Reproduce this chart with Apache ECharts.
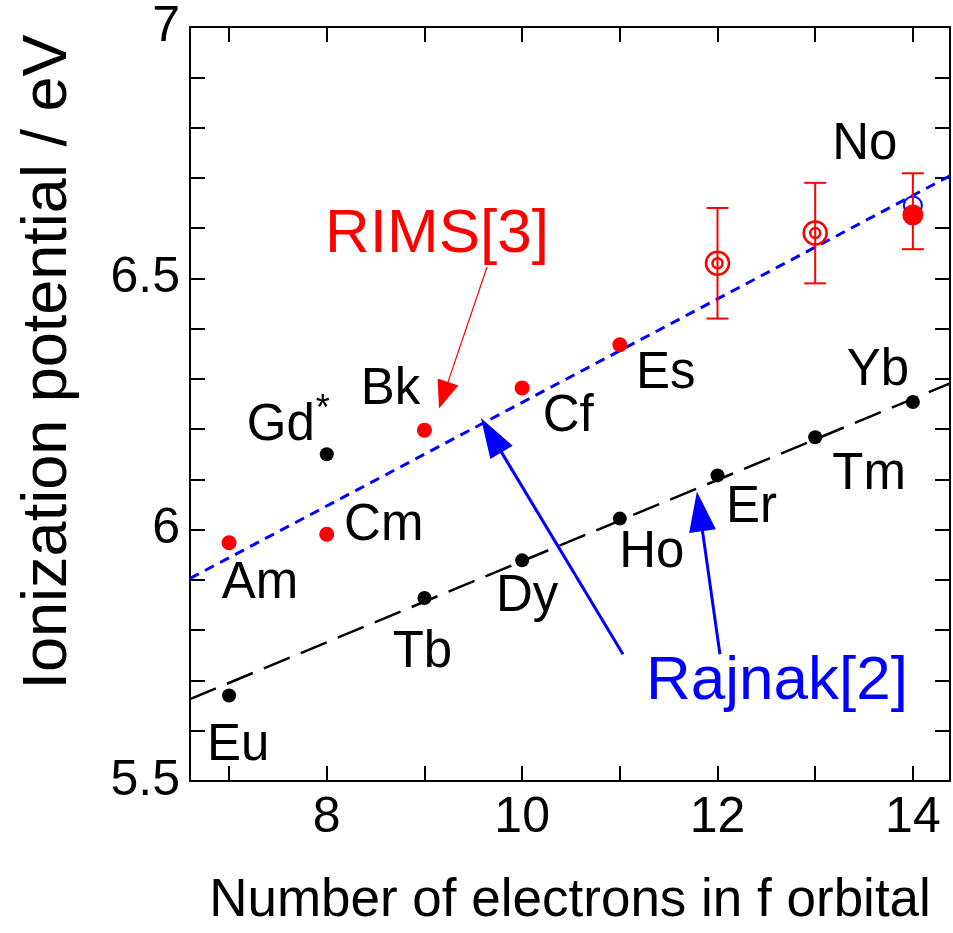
<!DOCTYPE html>
<html><head><meta charset="utf-8">
<script src="https://cdn.jsdelivr.net/npm/echarts@6/dist/echarts.min.js"></script>
<style>html,body{margin:0;padding:0;background:#fff}#c{width:953px;height:933px}</style>
</head><body><div id="c"></div>
<script>
const FONT = '"Liberation Sans", Arial, Helvetica, sans-serif';

// ---------------- data ----------------
const fElectrons   = [7, 8, 9, 10, 11, 12, 13, 14];
const lanthanides  = ['Eu', 'Gd', 'Tb', 'Dy', 'Ho', 'Er', 'Tm', 'Yb'];
const lanthanideIP = [5.670, 6.150, 5.864, 5.939, 6.022, 6.108, 6.184, 6.254];
const actinides    = ['Am', 'Cm', 'Bk', 'Cf', 'Es', 'Fm', 'Md', 'No'];
const actinideIP   = [5.974, 5.991, 6.198, 6.282, 6.368, 6.53, 6.59, 6.626];
const actinideErrLow  = [null, null, null, null, null, 6.42, 6.49, 6.558];
const actinideErrHigh = [null, null, null, null, null, 6.64, 6.69, 6.709];
const noTheoryIP = 6.645;

const fitX          = [6.6, 14.38];
const lanthanideFit = [5.663, 6.291];
const actinideFit   = [5.903, 6.704];

const xTicks      = [7, 8, 9, 10, 11, 12, 13, 14];
const xTickLabels = [8, 10, 12, 14];
const yTicks      = [5.5, 5.6, 5.7, 5.8, 5.9, 6.0, 6.1, 6.2, 6.3, 6.4, 6.5, 6.6, 6.7, 6.8, 6.9, 7.0];
const yTickLabels = [5.5, 6, 6.5, 7];

// annotations (data coordinates)
const noteTexts = ['RIMS[3]', 'Rajnak[2]', '*'];
const noteAt    = [[9.128, 6.587], [12.608, 5.698], [8, 6.150]];
const arrowFrom = [[9.64, 6.522], [11.032, 5.752], [12.025, 5.752]];
const arrowTo   = [[9.149, 6.241], [9.578, 6.222], [11.789, 6.076]];

// ---------------- styles ----------------
const RED = '#ff0000', BLUE = '#0000ff', BLACK = '#000000';
const noteStyle = [
  {color: RED, size: 62, off: [0, 0]},
  {color: BLUE, size: 62, off: [0, 0]},
  {color: BLACK, size: 36, off: [-4, -44]}
];
const arrowStyle = [
  {color: RED, width: 1.2, len: 28, head: 22},
  {color: BLUE, width: 3, len: 40, head: 26},
  {color: BLUE, width: 3, len: 40, head: 27}
];
const labelOffsets = {
  Eu: [9, 50], Gd: [-46, -28], Tb: [-2, 55], Dy: [5, 37], Ho: [32, 34], Er: [34, 33], Tm: [54, 38], Yb: [-35, -31],
  Am: [31, 41], Cm: [57, -8], Bk: [-34, -40], Cf: [46, 29], Es: [46, 29], No: [-48, -70]
};
const actMarker = ['dot', 'dot', 'dot', 'dot', 'dot', 'ring', 'ring', 'big'];
const LABEL_SIZE = 51;

function lbl(name) {
  const o = labelOffsets[name];
  if (!o) return {show: false};
  return {show: true, formatter: name, position: 'inside', offset: o, color: BLACK, opacity: 1,
    fontSize: LABEL_SIZE, fontFamily: FONT, align: 'center', verticalAlign: 'middle'};
}

const lanthData = fElectrons.map((x, i) => ({value: [x, lanthanideIP[i]], label: lbl(lanthanides[i])}));
const actDots = [], actRings = [];
fElectrons.forEach((x, i) => {
  const m = actMarker[i];
  if (m === 'ring') actRings.push([x, actinideIP[i]]);
  else actDots.push({value: [x, actinideIP[i]], symbolSize: m === 'big' ? 21 : 15, label: lbl(actinides[i])});
});
const errData = [];
fElectrons.forEach((x, i) => { if (actinideErrLow[i] != null) errData.push([x, actinideErrLow[i], actinideErrHigh[i]]); });
const arrowData = arrowFrom.map((f, i) => [f[0], f[1], arrowTo[i][0], arrowTo[i][1]]);

const axisLineStyle = {color: BLACK, width: 2};
const baseX = {type: 'value', min: 6.6, max: 14.38, splitLine: {show: false},
  axisLine: {show: true, onZero: false, lineStyle: axisLineStyle},
  axisTick: {show: true, inside: true, length: 15, customValues: xTicks, lineStyle: axisLineStyle}};
const baseY = {type: 'value', min: 5.5, max: 7, splitLine: {show: false},
  axisLine: {show: true, onZero: false, lineStyle: axisLineStyle},
  axisTick: {show: true, inside: true, length: 15, customValues: yTicks, lineStyle: axisLineStyle}};

const chart = echarts.init(document.getElementById('c'), null, {renderer: 'canvas'});
chart.setOption({
  animation: false,
  backgroundColor: '#ffffff',
  grid: {left: 190, right: 3, top: 27, bottom: 143, containLabel: false},
  xAxis: [
    Object.assign({}, baseX, {position: 'bottom',
      axisLabel: {show: true, customValues: xTickLabels, fontSize: 50, color: BLACK, fontFamily: FONT, margin: 12},
      name: 'Number of electrons in f orbital', nameLocation: 'middle', nameGap: 94,
      nameTextStyle: {fontSize: 53, color: BLACK, fontFamily: FONT}}),
    Object.assign({}, baseX, {position: 'top', axisLabel: {show: false}})
  ],
  yAxis: [
    Object.assign({}, baseY, {position: 'left',
      axisLabel: {show: true, customValues: yTickLabels, fontSize: 50, color: BLACK, fontFamily: FONT, margin: 10,
        formatter: v => String(Math.round(v * 10) / 10)}}),
    Object.assign({}, baseY, {position: 'right', axisLabel: {show: false}})
  ],
  graphic: [{
    type: 'text', x: 49, y: 362, rotation: Math.PI / 2,
    style: {text: 'Ionization potential / eV', fill: BLACK, fontSize: 63, fontFamily: FONT,
      align: 'center', verticalAlign: 'middle'}
  }],
  series: [
    {type: 'line', name: 'lanthanide fit', data: fitX.map((x, i) => [x, lanthanideFit[i]]),
      symbol: 'none', z: 2, lineStyle: {color: BLACK, width: 2.5, type: [28, 12]}},
    {type: 'line', name: 'actinide fit', data: fitX.map((x, i) => [x, actinideFit[i]]),
      symbol: 'none', z: 2, lineStyle: {color: BLUE, width: 3, type: [10, 7]}},
    {type: 'scatter', name: 'lanthanides', data: lanthData, symbol: 'circle', symbolSize: 14, z: 5,
      itemStyle: {color: BLACK, opacity: 1}},
    {type: 'scatter', name: 'No theory', data: [[14, noTheoryIP]], symbol: 'circle', symbolSize: 18, z: 4,
      itemStyle: {color: 'rgba(0,0,0,0)', borderColor: BLUE, borderWidth: 2, opacity: 1}},
    {type: 'custom', name: 'error bars', data: errData, z: 5, encode: {x: 0, y: [1, 2]},
      renderItem: function (params, api) {
        const x = api.value(0);
        const lo = api.coord([x, api.value(1)]), hi = api.coord([x, api.value(2)]);
        const c = 11, st = {stroke: RED, lineWidth: 2};
        return {type: 'group', children: [
          {type: 'line', shape: {x1: lo[0], y1: lo[1], x2: hi[0], y2: hi[1]}, style: st},
          {type: 'line', shape: {x1: lo[0] - c, y1: lo[1], x2: lo[0] + c, y2: lo[1]}, style: st},
          {type: 'line', shape: {x1: hi[0] - c, y1: hi[1], x2: hi[0] + c, y2: hi[1]}, style: st}
        ]};
      }},
    {type: 'scatter', name: 'actinides', data: actDots, symbol: 'circle', z: 6,
      itemStyle: {color: RED, opacity: 1}},
    {type: 'scatter', name: 'actinide rings outer', data: actRings, symbol: 'circle', symbolSize: 23, z: 6,
      itemStyle: {color: 'rgba(0,0,0,0)', borderColor: RED, borderWidth: 2.5, opacity: 1}},
    {type: 'scatter', name: 'actinide rings inner', data: actRings, symbol: 'circle', symbolSize: 10, z: 6,
      itemStyle: {color: 'rgba(0,0,0,0)', borderColor: RED, borderWidth: 2.5, opacity: 1}},
    {type: 'custom', name: 'arrows', data: arrowData, z: 7, encode: {x: [0, 2], y: [1, 3]},
      renderItem: function (params, api) {
        const s = api.coord([api.value(0), api.value(1)]);
        const t = api.coord([api.value(2), api.value(3)]);
        const st = arrowStyle[params.dataIndex];
        const dx = t[0] - s[0], dy = t[1] - s[1], L = Math.hypot(dx, dy);
        const ux = dx / L, uy = dy / L, px = -uy, py = ux;
        const bx = t[0] - ux * st.len, by = t[1] - uy * st.len, hw = st.head / 2;
        return {type: 'group', children: [
          {type: 'line', shape: {x1: s[0], y1: s[1], x2: bx + ux * 2, y2: by + uy * 2},
            style: {stroke: st.color, lineWidth: st.width}},
          {type: 'polygon', shape: {points: [[t[0], t[1]], [bx + px * hw, by + py * hw], [bx - px * hw, by - py * hw]]},
            style: {fill: st.color}}
        ]};
      }},
    {type: 'custom', name: 'notes', data: noteAt, z: 8, encode: {x: 0, y: 1},
      renderItem: function (params, api) {
        const p = api.coord([api.value(0), api.value(1)]);
        const st = noteStyle[params.dataIndex];
        return {type: 'text', x: p[0] + st.off[0], y: p[1] + st.off[1],
          style: {text: noteTexts[params.dataIndex], fill: st.color, fontSize: st.size, fontFamily: FONT,
            align: 'center', verticalAlign: 'middle'}};
      }}
  ]
});
</script></body></html>
